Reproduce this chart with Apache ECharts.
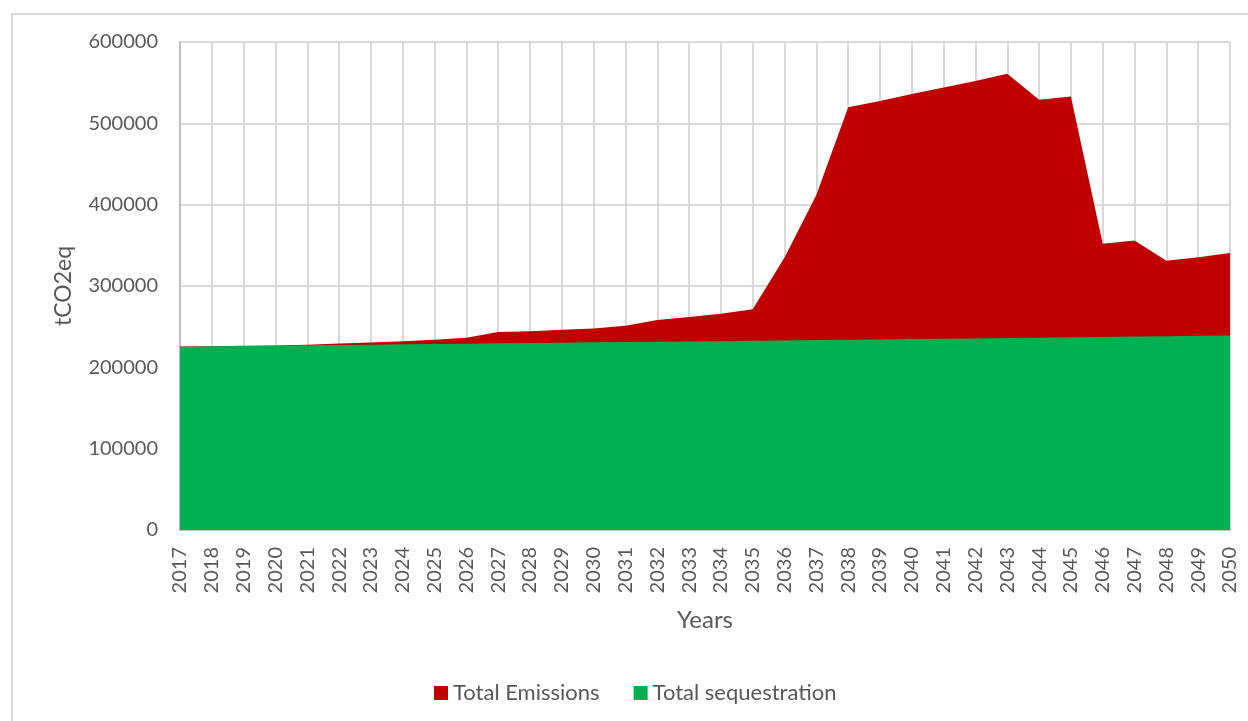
<!DOCTYPE html>
<html>
<head>
<meta charset="utf-8">
<script src="https://cdn.jsdelivr.net/npm/echarts@6/dist/echarts.min.js"></script>
<style>
    html, body {
        margin: 0;
        padding: 0;
        background: #fff;
    }
    #frame {
        position: absolute;
        left: 11px;
        top: 13px;
        width: 1237px;
        height: 708px;
        border-left: 2px solid #d9d9d9;
        border-top: 2px solid #d9d9d9;
    }
    #chart {
        position: absolute;
        left: 0;
        top: 0;
        width: 1248px;
        height: 721px;
    }
</style>
</head>
<body>
<div id="frame"></div>
<div id="chart"></div>
<script>
const years = [
    '2017', '2018', '2019', '2020', '2021', '2022', '2023', '2024', '2025', '2026',
    '2027', '2028', '2029', '2030', '2031', '2032', '2033', '2034', '2035', '2036',
    '2037', '2038', '2039', '2040', '2041', '2042', '2043', '2044', '2045', '2046',
    '2047', '2048', '2049', '2050',
]

// values
const totalEmissions = [
    225500, 226000, 226400, 226900, 227700, 229300, 230600, 232200, 233900, 236300,
    243300, 244500, 246200, 247800, 251100, 258100, 261900, 266000, 271300, 335000,
    412000, 519700, 527500, 536000, 544000, 552000, 561000, 529000, 533000, 352000,
    356000, 331000, 335500, 340500,
]

const totalSequestration = [
    225300, 225800, 226200, 226600, 227000, 227500, 227900, 228300, 228700, 229100,
    229500, 229900, 230300, 230700, 231000, 231400, 231800, 232200, 232700, 233100,
    233500, 233900, 234300, 234800, 235200, 235600, 236100, 236500, 236900, 237300,
    237800, 238200, 238700, 239200,
]

const font = 'Lato, "Open Sans", sans-serif'
const textColor = '#595959'

const chart = echarts.init(document.getElementById('chart'))
const option = {
    animation: false,
    textStyle: { fontFamily: font },
    grid: {
        left: 180,
        right: 18,
        top: 42,
        bottom: 191,
    },
    legend: {
        left: 434,
        top: 682,
        padding: 0,
        icon: 'rect',
        itemWidth: 14,
        itemHeight: 14,
        itemGap: 34,
        textStyle: { fontFamily: font, fontSize: 22, color: textColor },
        data: ['Total Emissions', 'Total sequestration'],
    },
    xAxis: {
        type: 'category',
        boundaryGap: false,
        data: years,
        name: 'Years',
        nameLocation: 'middle',
        nameGap: 78,
        nameTextStyle: { fontFamily: font, fontSize: 24, color: textColor },
        axisLine: { lineStyle: { color: '#bfbfbf', width: 2 } },
        axisTick: { show: false },
        axisLabel: {
            rotate: 90,
            interval: 0,
            margin: 17,
            fontSize: 20,
            color: textColor,
            fontFamily: font,
        },
        splitLine: { show: true, lineStyle: { color: '#d9d9d9', width: 2 } },
    },
    yAxis: {
        type: 'value',
        min: 0,
        max: 600000,
        interval: 100000,
        name: 'tCO2eq',
        nameLocation: 'middle',
        nameGap: 105,
        nameTextStyle: { fontFamily: font, fontSize: 23, color: textColor },
        axisLine: { show: true, lineStyle: { color: '#bfbfbf', width: 2 } },
        axisTick: { show: false },
        axisLabel: {
            margin: 22,
            fontSize: 20,
            color: textColor,
            fontFamily: font,
            formatter: (v) => String(v),
        },
        splitLine: { lineStyle: { color: '#d9d9d9', width: 2 } },
    },
    series: [
        {
            name: 'Total Emissions',
            type: 'line',
            data: totalEmissions,
            symbol: 'none',
            itemStyle: { color: '#c00000' },
            lineStyle: { width: 0 },
            areaStyle: { color: '#c00000', opacity: 1 },
        },
        {
            name: 'Total sequestration',
            type: 'line',
            data: totalSequestration,
            symbol: 'none',
            itemStyle: { color: '#00b050' },
            lineStyle: { width: 0 },
            areaStyle: { color: '#00b050', opacity: 1 },
        },
    ],
}

chart.setOption(option)
</script>
</body>
</html>
